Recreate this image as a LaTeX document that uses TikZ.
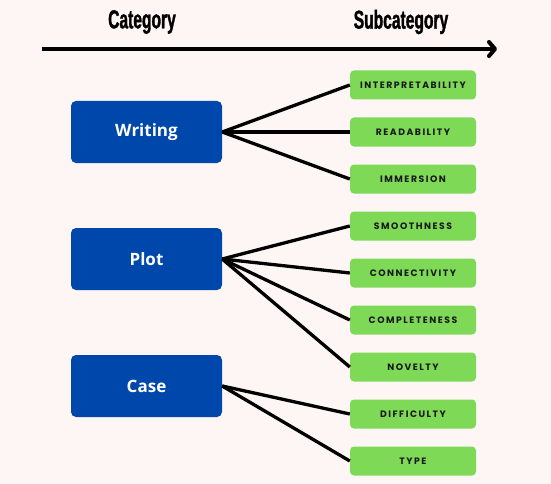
\documentclass[tikz,border=0pt]{standalone}
\usepackage{fontspec}
\setmainfont{Open Sans}
\newfontfamily\headfont[FakeStretch=0.6,FakeBold=1.2]{Liberation Sans}
\newfontfamily\subfont[LetterSpace=16]{Poppins}
\usetikzlibrary{arrows.meta}
\definecolor{catblue}{HTML}{0047AB}
\definecolor{subgreen}{HTML}{7ED957}
\definecolor{paper}{HTML}{FDF6F4}
\tikzset{
  cat/.style={fill=catblue, rounded corners=5pt, minimum width=151pt, minimum height=62pt,
    text=white, font=\bfseries\fontsize{17}{17}\selectfont},
  sub/.style={fill=subgreen, rounded corners=4pt, minimum width=126pt, minimum height=29pt,
    text=black!90, font=\subfont\bfseries\fontsize{9.3}{10}\selectfont},
  head/.style={font=\headfont\bfseries\fontsize{26}{26}\selectfont},
  link/.style={line width=3.3pt}
}
\begin{document}
\begin{tikzpicture}[x=1pt,y=-1pt]
\fill[paper] (0,0) rectangle (551,484);

% header
\node[head] (cathead) at (142,22) {Category};
\node[head] (subhead) at (401,22) {Subcategory};
\coordinate (axstart) at (42,49);
\coordinate (axend) at (497,49);
\draw[line width=4pt, -{Straight Barb[length=6pt,width=14pt,round]}] (axstart) -- (axend);

% categories
\node[cat] (writing) at (146.5,132) {Writing};
\node[cat] (plot) at (146.5,259) {Plot};
\node[cat] (case) at (146.5,386) {Case};

% subcategories
\foreach \name/\txt [count=\i] in {interp/INTERPRETABILITY, read/READABILITY, immer/IMMERSION,
    smooth/SMOOTHNESS, connect/CONNECTIVITY, complete/COMPLETENESS, novel/NOVELTY,
    diff/DIFFICULTY, type/TYPE}
  \node[sub] (\name) at (413,38+47*\i) {\txt};

% links
\foreach \s in {interp,read,immer} \draw[link] (writing.east) -- (\s.west);
\foreach \s in {smooth,connect,complete,novel} \draw[link] (plot.east) -- (\s.west);
\foreach \s in {diff,type} \draw[link] (case.east) -- (\s.west);
\end{tikzpicture}
\end{document}
